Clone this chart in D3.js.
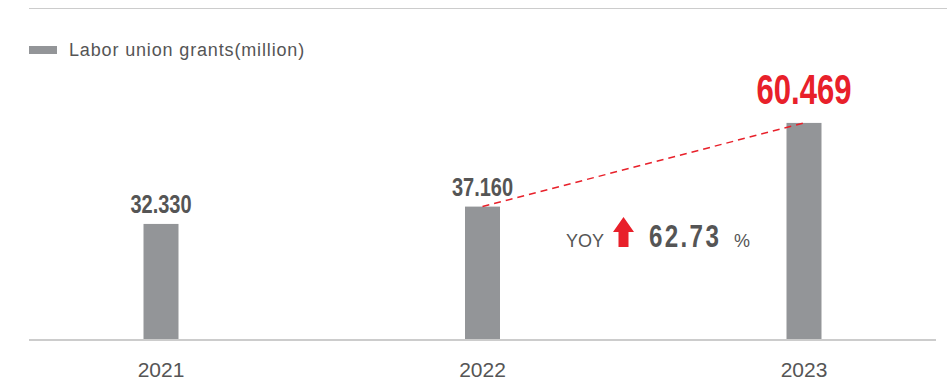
<!DOCTYPE html>
<html>
<head>
<meta charset="utf-8">
<script src="https://cdn.jsdelivr.net/npm/d3@7"></script>
<style>
  body { margin: 0; background: #fff; }
  svg { display: block; }
</style>
</head>
<body>
<svg id="chart"></svg>
<script>
const WIDTH = 947;
const HEIGHT = 380;

const years = ["2021", "2022", "2023"];
const grants = [32.330, 37.160, 60.469];
const labels = ["32.330", "37.160", "60.469"];
const yoyLabel = "62.73";
const legendLabel = "Labor union grants(million)";

const BAR_COLOR = "#939598";
const TEXT_COLOR = "#555555";
const RED = "#e8202a";
const NUM_FONT = "'Liberation Sans', Arial, sans-serif";

const svg = d3.select("#chart")
    .attr("width", WIDTH)
    .attr("height", HEIGHT);

const x = d3.scalePoint()
    .domain(years)
    .range([161, 804]);

const y = d3.scaleLinear()
    .domain([0, 65])
    .range([340, 340 - 65 * 3.59]);

const barWidth = 35;

// top rule
svg.append("line")
    .attr("x1", 29).attr("x2", WIDTH)
    .attr("y1", 8.5).attr("y2", 8.5)
    .attr("stroke", "#cccccc")
    .attr("stroke-width", 1);

// legend
svg.append("rect")
    .attr("x", 29).attr("y", 46)
    .attr("width", 28).attr("height", 8)
    .attr("fill", BAR_COLOR);
svg.append("text")
    .attr("x", 69).attr("y", 56)
    .attr("font-family", "'Liberation Sans', Arial, sans-serif")
    .attr("font-size", 18)
    .attr("letter-spacing", 0.85)
    .attr("fill", TEXT_COLOR)
    .text(legendLabel);

const data = years.map((yr, i) => ({ year: yr, value: grants[i], label: labels[i] }));

// bars
svg.selectAll("rect.bar")
    .data(data)
    .enter()
    .append("rect")
    .attr("class", "bar")
    .attr("x", d => x(d.year) - barWidth / 2)
    .attr("y", d => y(d.value))
    .attr("width", barWidth)
    .attr("height", d => y(0) - y(d.value))
    .attr("fill", BAR_COLOR);

// baseline
svg.append("line")
    .attr("x1", 29).attr("x2", 936)
    .attr("y1", y(0)).attr("y2", y(0))
    .attr("stroke", "#cccccc")
    .attr("stroke-width", 2);

// year labels
svg.selectAll("text.year")
    .data(data)
    .enter()
    .append("text")
    .attr("class", "year")
    .attr("x", d => x(d.year))
    .attr("y", 377)
    .attr("text-anchor", "middle")
    .attr("font-family", "'Liberation Sans', Arial, sans-serif")
    .attr("font-size", 21)
    .attr("fill", TEXT_COLOR)
    .text(d => d.year);

// value labels (condensed by horizontal scaling)
svg.selectAll("text.value")
    .data(data)
    .enter()
    .append("text")
    .attr("class", "value")
    .attr("transform", (d, i) => {
        const by = i === 2 ? y(d.value) - 19 : y(d.value) - 11;
        const sx = i === 2 ? 0.74 : 0.8;
        return `translate(${x(d.year)},${by}) scale(${sx},1)`;
    })
    .attr("text-anchor", "middle")
    .attr("font-family", NUM_FONT)
    .attr("font-weight", "bold")
    .attr("font-size", (d, i) => i === 2 ? 42 : 25)
    .attr("fill", (d, i) => i === 2 ? RED : TEXT_COLOR)
    .text(d => d.label);

// dashed trend line between 2022 and 2023
svg.append("line")
    .attr("x1", x(years[1])).attr("y1", y(grants[1]))
    .attr("x2", x(years[2])).attr("y2", y(grants[2]))
    .attr("stroke", RED)
    .attr("stroke-width", 1.5)
    .attr("stroke-dasharray", "7,5");

// YOY annotation
const yoy = svg.append("g");
yoy.append("text")
    .attr("x", 566).attr("y", 247)
    .attr("font-family", "'Liberation Sans', Arial, sans-serif")
    .attr("font-size", 18)
    .attr("fill", TEXT_COLOR)
    .text("YOY");
yoy.append("path")
    .attr("d", "M613,232 L623.5,217 L634,232 L628.5,232 L628.5,247 L618.5,247 L618.5,232 Z")
    .attr("fill", RED);
yoy.append("text")
    .attr("transform", "translate(649,247) scale(0.78,1)")
    .attr("font-family", NUM_FONT)
    .attr("font-weight", "bold")
    .attr("font-size", 31)
    .attr("letter-spacing", 3)
    .attr("fill", TEXT_COLOR)
    .text(yoyLabel);
yoy.append("text")
    .attr("x", 734).attr("y", 247)
    .attr("font-family", "'Liberation Sans', Arial, sans-serif")
    .attr("font-size", 18)
    .attr("fill", TEXT_COLOR)
    .text("%");
</script>
</body>
</html>
